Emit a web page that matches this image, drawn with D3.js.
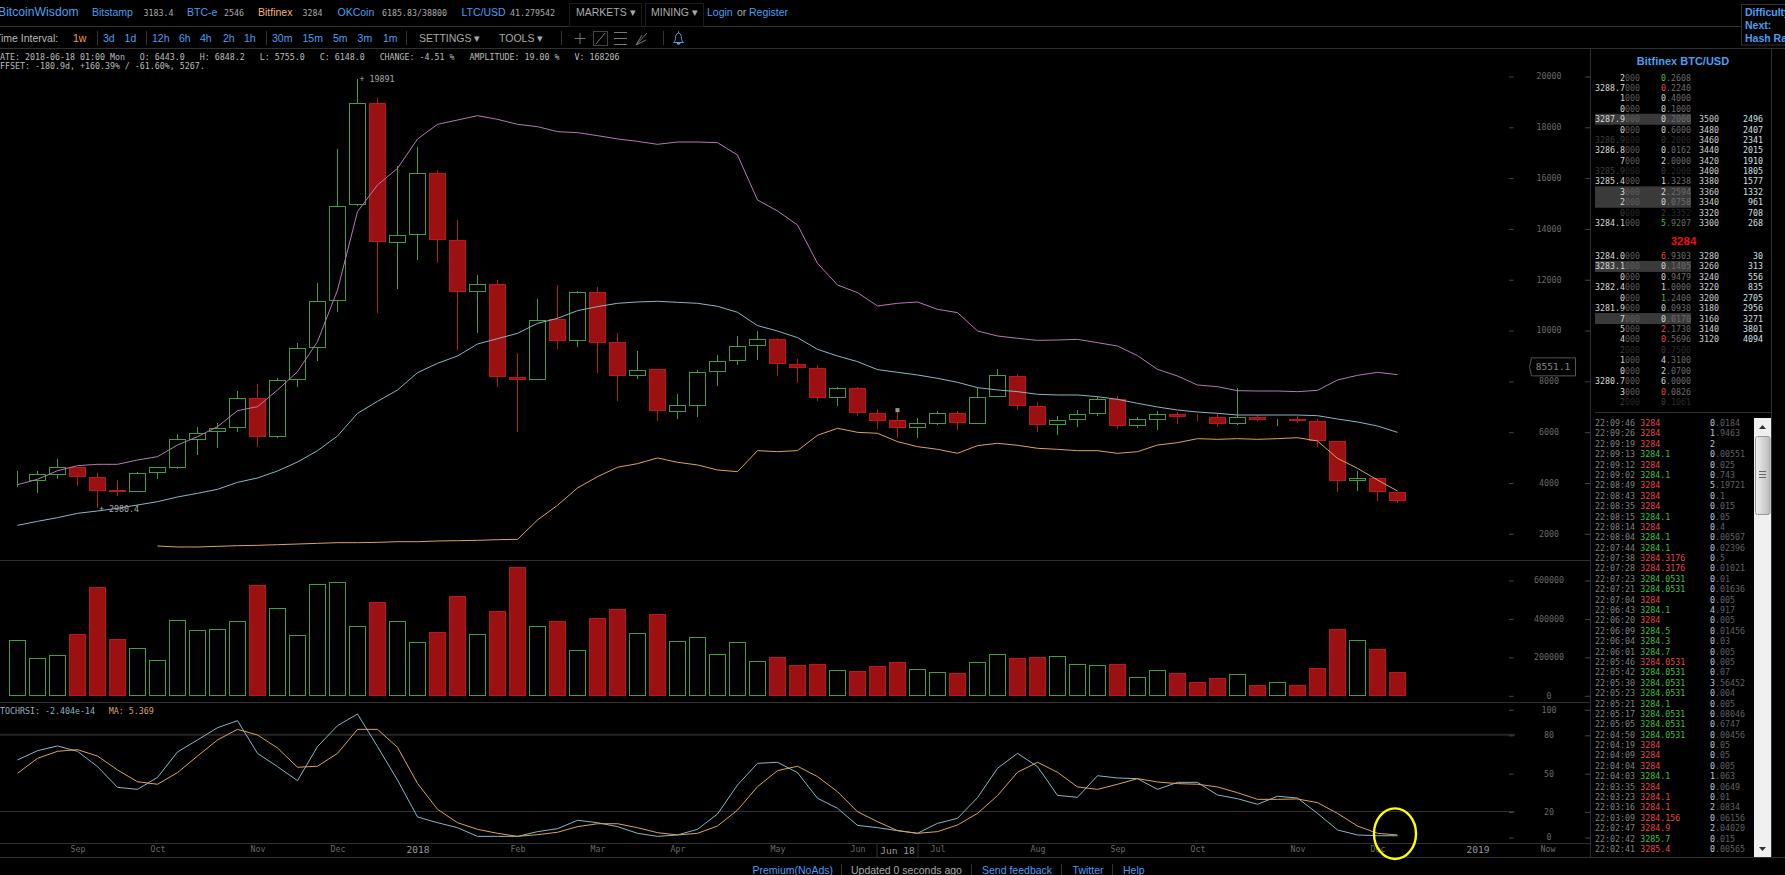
<!DOCTYPE html>
<html><head><meta charset="utf-8"><title>BitcoinWisdom BTC/USD weekly</title>
<script src="https://cdn.jsdelivr.net/npm/d3@7"></script>
<style>html,body{margin:0;padding:0;background:#000;overflow:hidden}svg{display:block}
.mono{font-family:"DejaVu Sans Mono",monospace;font-size:8.3px}
.sans{font-family:"Liberation Sans",Arial,sans-serif;font-size:10.5px}
</style></head><body><svg id="c" width="1785" height="875"></svg>
<script>
// ---------- chart data ----------
const opens  =[4045,4085,4321,4596,4202,3670,3652,4387,4596,5700,6000,6158,7325,5800,8045,9320,11170,14950,18920,13450,13770,16170,13530,11510,11800,8140,8060,10397,9583,11486,9505,8206,8429,6800,7038,8350,8796,9400,9636,8652,8494,7353,7707,6723,6443,6160,6330,6697,6330,7380,8190,7010,6300,6468,6710,7273,6236,6485,6695,6610,6565,6340,6565,6480,6470,6405,5620,4070,4150,3625];
const closes =[4046,4307,4583,4229,3665,3650,4360,4596,5700,5935,6130,7312,5800,8020,9280,11130,14855,18920,13475,13730,16170,13555,11510,11800,8165,8060,10385,9583,11486,9505,8206,8416,6815,7012,8337,8770,9360,9636,8678,8520,7340,7707,6750,6435,6148,6330,6697,6343,7353,8206,7022,6300,6445,6690,7273,6236,6485,6695,6615,6590,6340,6565,6485,6490,6430,5645,4070,4164,3640,3285];
const highs  =[4465,4439,4925,4620,4360,4100,4410,4620,5910,6170,6330,7590,7870,8100,9480,11840,17125,19891,19130,16460,17190,16300,14330,12170,11970,9085,11240,11775,11525,11680,9872,9164,8480,7471,8415,9032,9754,9964,9675,8862,8612,7773,7760,6894,6848.2,6526,6828,6802,7707,8468,8271,7150,6617,6862,7378,7404,6564,6827,6787,6695,6695,7718,6643,6510,6617,6485,5620,4463,4175,3625];
const lows   =[3835,3597,4150,3863,2980.4,3468,3640,4125,4550,5080,5345,5990,5380,5760,7745,8780,10725,14890,10680,11620,12750,12625,9220,9870,7770,5990,8035,9270,9347,8324,7222,8060,6435,6500,6592,7812,8640,8836,8206,7917,7222,7025,6620,6107,5755,5750,6264,6067,6300,7353,6855,5985,5856,6197,6630,6118,6145,6078,6302,6420,6197,6263,6420,6222,6328,5410,3640,3678,3270,3205];
const bandUpper=[3914,4124,4465,4662,4715,4715,4885,5016,5476,5803,6197,6827,6984,7640,8362,9543,11576,14660,15709,16365,17520,18097,18267,18438,18294,18098,18006,17810,17770,17652,17521,17429,17311,17403,17403,17377,16891,15120,14687,14136,12627,11774,11473,10948,11053,11105,10817,10685,9964,9767,9675,9595,9608,9635,9503,9372,8992,8454,8191,7837,7771,7614,7601,7601,7575,7627,8034,8218,8336,8244];
const bandMiddle=[2314,2471,2615,2786,2878,2983,3114,3245,3429,3573,3731,4006,4177,4452,4806,5252,5830,6722,7194,7640,8323,8690,8979,9451,9661,9871,10264,10462,10764,10922,11053,11105,11132,11092,11053,10935,10699,10174,9964,9701,9242,8980,8757,8442,8337,8232,8101,7943,7733,7642,7576,7471,7444,7444,7378,7273,7116,6971,6853,6774,6722,6656,6656,6656,6656,6630,6499,6381,6223,5974];
const bandLowerStart=7;
const bandLower=[1500,1461,1461,1486,1513,1526,1552,1578,1605,1631,1631,1644,1670,1670,1697,1710,1723,1749,1762,2525,3102,3784,4230,4598,4742,4965,4795,4690,4493,4427,5254,5214,5254,5857,6133,5975,5936,5608,5411,5306,5149,5451,5542,5464,5346,5305,5252,5252,5147,5213,5475,5567,5725,5699,5725,5699,5725,5764,5633,4951,4557,4098,3665];
const volumes=[286100,192500,208100,315600,561800,291300,244500,182100,390200,338100,343300,384900,568800,452600,312100,577400,587800,358900,483800,384900,274000,327700,515000,317300,437000,665900,357200,381500,232400,400600,447400,319100,419600,280900,298200,213300,274000,173400,197700,156100,161300,130100,121400,150900,168206,135300,119600,114400,169900,211500,192500,197700,202900,161300,156100,161300,93600,130100,114400,65900,86700,107500,48600,67600,52000,140500,343300,286100,239300,119600];
const stochRsi=[60.3,67.6,71.3,67.1,55.1,38.9,37.3,46.7,66.6,76.0,85.6,91.1,65.5,55.1,44.1,70.8,87.2,96.3,70.8,44.6,15.7,11.2,7.3,0.5,0.5,0.5,4.2,6.5,13.1,11.2,8.1,2.9,0.5,1.6,6.0,18.0,40.7,57.7,58.5,50.4,30.3,22.5,9.1,7.3,5.0,2.9,10.7,14.6,30.8,53.8,65.5,55.1,32.6,31.1,48.0,46.2,45.7,37.3,42.8,42.8,32.9,30.0,25.6,31.9,30.5,18.5,5.5,1.6,1.0,1.0];
const stochMa=[49.9,61.6,67.1,68.4,63.4,52.5,43.3,41.3,50.4,63.4,76.0,84.3,79.9,69.7,54.6,55.4,65.5,84.3,84.3,70.2,42.0,21.7,11.2,6.0,2.9,0.5,1.8,3.7,8.1,10.4,10.4,7.3,3.4,1.6,2.9,8.6,21.1,39.4,52.0,55.4,47.3,35.5,19.8,12.0,5.0,2.9,4.2,9.4,18.5,32.4,50.7,58.5,50.7,39.2,37.3,41.3,45.7,43.1,41.8,41.3,39.2,34.7,29.5,29.5,29.8,26.9,18.5,8.6,2.9,1.6];
const priceTicks=[2000,4000,6000,8000,10000,12000,14000,16000,18000,20000];
const volumeTicks=[0,200000,400000,600000];
const stochTicks=[0,20,50,80,100];
const timeTickIndex=[3,7,12,16,25,29,33,38,42,46,51,55,59,64,68,76.5];
const timeTickLabels=["Sep","Oct","Nov","Dec","Feb","Mar","Apr","May","Jun","Jul","Aug","Sep","Oct","Nov","Dec","Now"];
const yearTickIndex=[20,73];
const yearTickLabels=["2018","2019"];
const selectedIndex=44, selectedLabel="Jun 18";
const lastPriceTag=8551.1;
const highLabel="+ 19891", lowLabel="+ 2980.4";
const infoLine1="DATE: 2018-06-18 01:00 Mon   O: 6443.0   H: 6848.2   L: 5755.0   C: 6148.0   CHANGE: -4.51 %   AMPLITUDE: 19.00 %   V: 168206";
const infoLine2="OFFSET: -180.9d, +160.39% / -61.60%, 5267.";
// ---------- order book ----------
const upperBright=["2","3288.7","1","0","3287.9","0","3286.9","3286.8","7","3285.9","3285.4","3","2","0","3284.1"];
const upperLead=["0","0","0","0","0","0","0","0","2","0","1","2","0","2","5"];
const upperRest=[".2608",".2240",".4000",".1000",".2000",".6000",".2000",".0162",".0000",".2000",".3238",".2594",".0758",".3352",".9207"];
const upperLeadTone=["g","r","","","","","","","","","","","","","g"];
const upperHighlight=[4,11,12], upperDim=[6,9,13];
const upperDepthPrice=[3500,3480,3460,3440,3420,3400,3380,3360,3340,3320,3300];
const upperDepthSum=[2496,2407,2341,2015,1910,1805,1577,1332,961,708,268];
const lowerBright=["3284.0","3283.1","0","3282.4","0","3281.9","7","5","4","2","1","0","3280.7","3","2"];
const lowerLead=["6","0","0","1","1","0","0","2","0","0","4","2","6","0","0"];
const lowerRest=[".9303",".1405",".9479",".0000",".2400",".0930",".0170",".1730",".5696",".7500",".3100",".0700",".0000",".0826",".1061"];
const lowerLeadTone=["r","","","","g","","","r","r","","","","","r",""];
const lowerHighlight=[1,6], lowerDim=[9,14];
const lowerDepthPrice=[3280,3260,3240,3220,3200,3180,3160,3140,3120];
const lowerDepthSum=[30,313,556,835,2705,2956,3271,3801,4094];
// ---------- trades ----------
const tradeTimes=["22:09:46","22:09:26","22:09:19","22:09:13","22:09:12","22:09:02","22:08:49","22:08:43","22:08:35","22:08:15","22:08:14","22:08:04","22:07:44","22:07:38","22:07:28","22:07:23","22:07:21","22:07:04","22:06:43","22:06:20","22:06:09","22:06:04","22:06:01","22:05:46","22:05:42","22:05:30","22:05:23","22:05:21","22:05:17","22:05:05","22:04:50","22:04:19","22:04:09","22:04:04","22:04:03","22:03:35","22:03:23","22:03:16","22:03:09","22:02:47","22:02:42","22:02:41"];
const tradePrices=["3284","3284","3284","3284.1","3284","3284.1","3284","3284","3284","3284.1","3284","3284.1","3284.1","3284.3176","3284.3176","3284.0531","3284.0531","3284","3284.1","3284","3284.5","3284.3","3284.7","3284.0531","3284.0531","3284.0531","3284.0531","3284.1","3284.0531","3284.0531","3284.0531","3284","3284","3284","3284.1","3284","3284.1","3284.1","3284.156","3284.9","3285.7","3285.4"];
const tradeAmounts=["0.0184","1.9463","2","0.00551","0.025","0.743","5.19721","0.1","0.015","0.05","0.4","0.00507","0.02396","0.5","0.01021","0.01","0.01636","0.005","4.917","0.005","0.01456","0.03","0.005","0.005","0.07","3.56452","0.004","0.005","0.08046","0.6747","0.00456","0.05","0.05","0.005","1.063","0.0649","0.01","2.0834","0.06156","2.04020","0.015","0.00565"];
const tradeBuy=[0,0,0,1,0,1,0,0,0,1,0,1,1,0,0,1,1,0,1,0,1,1,1,0,1,1,1,1,1,1,1,0,0,0,1,0,0,0,0,0,1,0];

// ---------- colours ----------
const GREEN="#3f9f38",RED_F="#9b1010",RED_S="#b81a1a",PINK="#b878b8",CYAN="#8db4c6",ORANGE="#dca45c",
      BLUE="#4a9ff0",LINE="#303030",AXIS="#6a6a6a";

const svg=d3.select("#c");
svg.append("rect").attr("width",1785).attr("height",875).attr("fill","#000");

// ---------- scales ----------
const x=d3.scaleLinear().domain([0,69]).range([17.5,1397.5]);
const yPrice=d3.scaleLinear().domain([2000,20000]).range([533.3,76]);
const yVol=d3.scaleLinear().domain([0,600000]).range([695.3,580]);
const yStoch=d3.scaleLinear().domain([0,100]).range([837,709.3]);
const crisp=v=>Math.round(v-0.5)+0.5;
const HALF=8;

// ---------- frame lines ----------
function hline(y,x1,x2,c=LINE,w=1){svg.append("line").attr("x1",x1).attr("x2",x2).attr("y1",y).attr("y2",y).attr("stroke",c).attr("stroke-width",w)}
function vline(x0,y1,y2,c=LINE){svg.append("line").attr("x1",x0).attr("x2",x0).attr("y1",y1).attr("y2",y2).attr("stroke",c)}
hline(26.5,0,1741);hline(48.5,0,1785);
hline(560.5,0,1590);hline(702.5,0,1590);hline(843.5,0,1590);hline(857.5,0,1785);
hline(412.5,1595,1771);
vline(1590.5,48,857);vline(1771.5,48,857);
hline(yStoch(80),0,1515,"#262626",2);hline(crisp(yStoch(20)),0,1515,"#2e2e2e");

// ---------- candles ----------
const idx=d3.range(opens.length);
const isUp=i=>closes[i]>=opens[i];
const candles=svg.append("g").selectAll("g").data(idx).join("g");
candles.append("line").attr("x1",i=>x(i)).attr("x2",i=>x(i))
  .attr("y1",i=>Math.round(yPrice(highs[i]))).attr("y2",i=>Math.round(yPrice(lows[i])))
  .attr("stroke",i=>isUp(i)?GREEN:RED_S);
candles.append("rect").attr("x",i=>x(i)-HALF).attr("width",HALF*2)
  .attr("y",i=>crisp(yPrice(Math.max(opens[i],closes[i]))))
  .attr("height",i=>Math.max(0,crisp(yPrice(Math.min(opens[i],closes[i])))-crisp(yPrice(Math.max(opens[i],closes[i])))))
  .attr("fill",i=>isUp(i)?"#000":RED_F).attr("stroke",i=>isUp(i)?GREEN:RED_S);

// selected-candle marker
svg.append("rect").attr("x",x(selectedIndex)-2).attr("y",yPrice(highs[selectedIndex])-2).attr("width",4).attr("height",4).attr("fill","#999");

// ---------- band lines ----------
const priceLine=d3.line().x(d=>x(d[0])).y(d=>yPrice(d[1]));
function drawSeries(values,start,color,gen){
  svg.append("path").datum(values.map((v,i)=>[i+start,v])).attr("d",gen).attr("fill","none").attr("stroke",color).attr("stroke-width",1);
}
drawSeries(bandUpper,0,PINK,priceLine);
drawSeries(bandMiddle,0,CYAN,priceLine);
drawSeries(bandLower,bandLowerStart,ORANGE,priceLine);

// ---------- volume ----------
svg.append("g").selectAll("rect").data(idx).join("rect")
  .attr("x",i=>x(i)-HALF).attr("width",HALF*2)
  .attr("y",i=>crisp(yVol(volumes[i]))).attr("height",i=>crisp(yVol(0))-crisp(yVol(volumes[i])))
  .attr("fill",i=>isUp(i)?"#000":RED_F).attr("stroke",i=>isUp(i)?GREEN:RED_S);

// ---------- stoch rsi ----------
const stochLine=d3.line().x(d=>x(d[0])).y(d=>yStoch(d[1]));
drawSeries(stochRsi,0,CYAN,stochLine);
drawSeries(stochMa,0,ORANGE,stochLine);

// ---------- axes ----------
function yAxis(scale,ticks){
  const g=svg.append("g").attr("transform","translate(1585,0)")
    .call(d3.axisRight(scale).tickValues(ticks).tickFormat(d3.format("d")).tickSize(5));
  g.select(".domain").remove();
  g.selectAll("line").attr("stroke","#444").attr("y1",.5).attr("y2",.5);
  g.selectAll(".tick").append("line").attr("x1",-76).attr("x2",-71.5).attr("y1",.5).attr("y2",.5).attr("stroke","#444");
  g.selectAll("text").attr("x",-36).attr("dy",".35em").attr("text-anchor","middle")
    .attr("fill",AXIS).attr("class","mono").style("font-family",'"DejaVu Sans Mono",monospace').style("font-size","8.3px");
}
yAxis(yPrice,priceTicks);yAxis(yVol,volumeTicks);yAxis(yStoch,stochTicks);

const tAxis=svg.append("g").attr("transform","translate(0,845)")
  .call(d3.axisBottom(x).tickValues(timeTickIndex).tickFormat((d,i)=>timeTickLabels[i]).tickSize(0).tickPadding(0));
tAxis.select(".domain").remove();
tAxis.selectAll("text").attr("fill",AXIS).style("font-family",'"DejaVu Sans Mono",monospace').style("font-size","8.3px").attr("y",1).attr("dy",".71em");
const yrAxis=svg.append("g").attr("transform","translate(0,845)")
  .call(d3.axisBottom(x).tickValues(yearTickIndex).tickFormat((d,i)=>yearTickLabels[i]).tickSize(0).tickPadding(0));
yrAxis.select(".domain").remove();
yrAxis.selectAll("text").attr("fill","#999").style("font-family",'"DejaVu Sans Mono",monospace').style("font-size","9.5px").attr("y",1).attr("dy",".71em");

// selected date flag
svg.append("rect").attr("x",x(selectedIndex)-20.5).attr("y",843.5).attr("width",41).attr("height",14).attr("fill","#000").attr("stroke",LINE);
svg.append("text").attr("x",x(selectedIndex)).attr("y",854).attr("text-anchor","middle").attr("fill","#999")
  .style("font-family",'"DejaVu Sans Mono",monospace').style("font-size","9.5px").text(selectedLabel);

// price tag
const tagY=yPrice(lastPriceTag);
svg.append("path").attr("d",`M1575.5,${tagY-9}H1531.5L1529.5,${tagY}L1531.5,${tagY+9}H1575.5Z`).attr("fill","#000").attr("stroke","#555");
svg.append("text").attr("class","mono").attr("x",1553).attr("y",tagY+3.2).attr("text-anchor","middle").attr("fill","#888").style("font-size","9.5px").text(lastPriceTag);

// ---------- text helpers ----------
function mono(xp,yp,txt,fill="#bbb",anchor="start"){return svg.append("text").attr("class","mono").attr("x",xp).attr("y",yp).attr("fill",fill).attr("text-anchor",anchor).attr("xml:space","preserve").style("white-space","pre").text(txt)}
function sans(xp,yp,txt,fill=BLUE,weight=null,size=null){const t=svg.append("text").attr("class","sans").attr("x",xp).attr("y",yp).attr("fill",fill).text(txt);if(weight)t.attr("font-weight",weight);if(size)t.style("font-size",size+"px");return t}

// high/low labels, info lines
mono(x(17)+2,82,highLabel,"#aaa");
mono(x(4)+1.5,511.5,lowLabel,"#aaa");
mono(-5,60,infoLine1,"#bdbdbd");
mono(-5,69,infoLine2,"#bdbdbd");
const sl=mono(-5,714,"STOCHRSI: -2.404e-14",CYAN);
mono(108.7,714,"MA: 5.369",ORANGE);

// ---------- nav row ----------
sans(-2,16,"BitcoinWisdom",BLUE,null,12.2);
sans(92,16,"Bitstamp");mono(143.5,15.5,"3183.4","#aaa");
sans(187,16,"BTC-e");mono(224,15.5,"2546","#aaa");
sans(258,16,"Bitfinex","#f0b478");mono(302.5,15.5,"3284","#aaa");
sans(337.5,16,"OKCoin");mono(382,15.5,"6185.83/38800","#aaa");
sans(461.5,16,"LTC/USD");mono(510,15.5,"41.279542","#aaa");
svg.append("rect").attr("x",569.5).attr("y",3.5).attr("width",72).attr("height",23).attr("fill","none").attr("stroke","#1c1c1c");
svg.append("rect").attr("x",645.5).attr("y",3.5).attr("width",58).attr("height",23).attr("fill","none").attr("stroke","#1c1c1c");
sans(576,16,"MARKETS ▾","#aaa");sans(651,16,"MINING ▾","#aaa");
sans(707,16,"Login",BLUE);sans(737,16,"or","#aaa");sans(749,16,"Register",BLUE);

// ---------- toolbar ----------
sans(-5,41.5,"Time Interval:","#bbb");
sans(73,41.5,"1w","#f0a040");
[[103,"3d"],[124.6,"1d"],[152,"12h"],[179,"6h"],[200,"4h"],[223,"2h"],[244,"1h"],[272,"30m"],[302.5,"15m"],[333,"5m"],[357.6,"3m"],[383,"1m"]]
  .forEach(d=>sans(d[0],41.5,d[1],BLUE));
[97.5,146.5,266.5,406.5,561.5,663.5].forEach(v=>vline(v,31,45,"#333"));
sans(419,41.5,"SETTINGS ▾","#aaa");sans(499,41.5,"TOOLS ▾","#aaa");
const tb=svg.append("g").attr("stroke","#777").attr("fill","none");
tb.append("path").attr("d","M580,33V44M574.5,38.5H585.5");
tb.append("rect").attr("x",593.5).attr("y",31.5).attr("width",14).attr("height",14).attr("stroke","#444");
tb.append("path").attr("d","M596,44L605,33");
tb.append("path").attr("d","M614,32.5H627M614,38.5H627M614,44.5H627");
tb.append("path").attr("d","M636,45L647,33M636,45L646,40M636,45L642,35");
svg.append("path").attr("d","M678.5,31.5v1.5c-2.5,.5-3,3-3,5.5c0,2-1,3-2,4h10c-1,-1-2,-2-2,-4c0,-2.5-.5,-5-3,-5.5v-1.5ZM677,43.5h3l-1.5,1.5Z").attr("fill","none").attr("stroke",BLUE);

// ---------- difficulty box ----------
svg.append("rect").attr("x",1741.5).attr("y",4.5).attr("width",50).attr("height",40.5).attr("fill","#000").attr("stroke","#333");
sans(1745,15.5,"Difficulty",BLUE,"bold");sans(1745,28.5,"Next:",BLUE,"bold");sans(1745,42,"Hash Rate",BLUE,"bold");

// ---------- order book ----------
svg.append("text").attr("x",1683).attr("y",65).attr("text-anchor","middle").attr("fill",BLUE)
  .style("font-family",'"Liberation Sans",sans-serif').style("font-size","11px").style("font-weight","bold").text("Bitfinex BTC/USD");
const toneColor={g:"#44c044",r:"#e84a4a","":"#d8d8d8"};
function drawBook(bright,lead,rest,tone,hl,dim,depthP,depthS,y0,y1,depthOffset){
  const ry=d3.scaleLinear().domain([0,14]).range([y0,y1]);
  hl.forEach(i=>svg.append("rect").attr("x",1595).attr("y",ry(i)-5.5).attr("width",96).attr("height",11).attr("fill","#3a3a3a"));
  bright.forEach((b,i)=>{
    const isDim=dim.includes(i),Y=ry(i)+3;
    const p=mono(1640,Y,"","#ccc","end");
    p.append("tspan").attr("fill",isDim?"#3c3c3c":"#d8d8d8").text(b);
    p.append("tspan").attr("fill",isDim?"#262626":"#5c5c5c").text("000");
    const a=mono(1691,Y,"","#ccc","end");
    a.append("tspan").attr("fill",isDim?"#3c3c3c":toneColor[tone[i]]).text(lead[i]);
    a.append("tspan").attr("fill",isDim?"#2a2a2a":"#6c6c6c").text(rest[i]);
  });
  depthP.forEach((d,i)=>{
    mono(1699,ry(i+depthOffset)+3,String(d),"#cfcfcf");
    mono(1763,ry(i+depthOffset)+3,String(depthS[i]),"#cfe0e8","end");
  });
}
drawBook(upperBright,upperLead,upperRest,upperLeadTone,upperHighlight,upperDim,upperDepthPrice,upperDepthSum,77.7,223,4);
svg.append("text").attr("x",1683.5).attr("y",244.5).attr("text-anchor","middle").attr("fill","#ee1111")
  .style("font-family",'"Liberation Sans",sans-serif').style("font-size","11.5px").style("font-weight","bold").text("3284");
drawBook(lowerBright,lowerLead,lowerRest,lowerLeadTone,lowerHighlight,lowerDim,lowerDepthPrice,lowerDepthSum,256,402,0);

// ---------- trade list ----------
const ty=d3.scaleLinear().domain([0,tradeTimes.length-1]).range([423,849]);
tradeTimes.forEach((t,i)=>{
  const Y=ty(i)+3;
  mono(1595,Y,t,"#808080");
  mono(1640.3,Y,tradePrices[i],tradeBuy[i]?"#3fc040":"#e04a4a");
  const parts=tradeAmounts[i];
  const a=mono(1710,Y,"","#888");
  a.append("tspan").attr("fill","#b8cce0").text(parts[0]);
  a.append("tspan").attr("fill","#606060").text(parts.slice(1));
});

// scrollbar
svg.append("rect").attr("x",1754).attr("y",418).attr("width",17).attr("height",439).attr("fill","#f0f0f0");
const gr=svg.append("defs").append("linearGradient").attr("id","thumb");
gr.append("stop").attr("offset","0").attr("stop-color","#eeeeee");
gr.append("stop").attr("offset","1").attr("stop-color","#bcbcbc");
svg.append("rect").attr("x",1755.5).attr("y",436.5).attr("width",14.5).attr("height",78).attr("rx",2).attr("fill","url(#thumb)").attr("stroke","#9a9a9a");
svg.append("path").attr("d","M1759,471.5H1766M1759,474.5H1766M1759,477.5H1766").attr("stroke","#666");
svg.append("path").attr("d","M1762.5,425L1766,429H1759ZM1762.5,851L1766,847H1759Z").attr("fill","#333");

// ---------- footer ----------
const fy=874;
sans(752.5,fy,"Premium(NoAds)",BLUE);sans(851,fy,"Updated 0 seconds ago","#aaa");
sans(982,fy,"Send feedback",BLUE);sans(1072.6,fy,"Twitter",BLUE);sans(1123,fy,"Help",BLUE);
[841.5,971.5,1061.5,1112.5].forEach(v=>vline(v,864,875,"#333"));

// ---------- annotation ----------
svg.append("ellipse").attr("cx",x(69)-2.5).attr("cy",833.7).attr("rx",21).attr("ry",25.3).attr("fill","none").attr("stroke","#ffff00").attr("stroke-width",2.4);
</script></body></html>
